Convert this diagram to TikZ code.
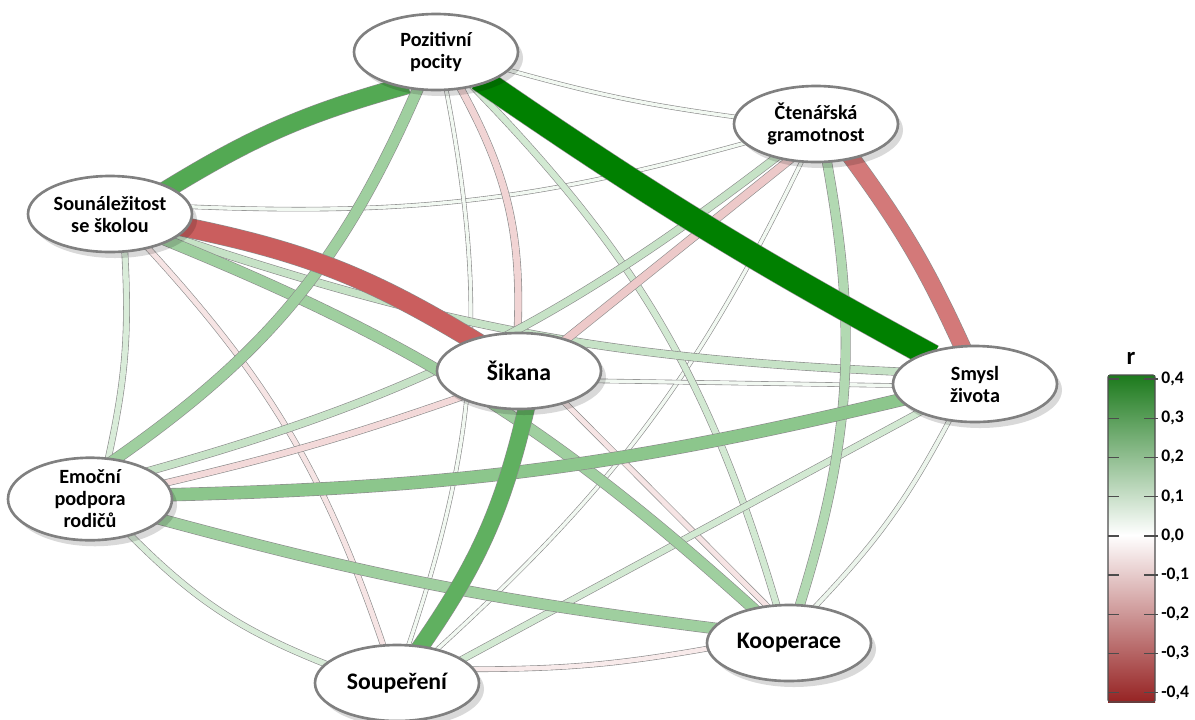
\documentclass[tikz,border=0pt]{standalone}
\usepackage{fontspec}
\setmainfont{Carlito}
\usetikzlibrary{shapes.geometric,shadows}
\definecolor{posgreen}{RGB}{0,128,0}
\definecolor{negred}{RGB}{185,40,40}
\definecolor{bargreen}{RGB}{28,122,28}
\definecolor{barred}{RGB}{150,35,35}
\pgfdeclarelayer{edges}
\pgfsetlayers{edges,main}
\tikzset{
  var/.style={ellipse, draw=black!50, line width=1.5pt, fill=white, inner sep=0pt,
    minimum width=32.8mm, minimum height=15.2mm, align=center,
    font=\bfseries\fontsize{11.5}{12.5}\selectfont,
    drop shadow={shadow xshift=1mm, shadow yshift=-1.2mm, fill=black, opacity=0.15}},
  bigvar/.style={var, font=\bfseries\fontsize{13.5}{15}\selectfont},
  link/.style={draw=black!45, line width=0.35pt, double distance=#1,
    shorten <=-5pt, shorten >=-5pt},
  tick/.style={draw=black!70, line width=0.8pt},
  ticklabel/.style={anchor=west, inner sep=0pt, font=\bfseries\fontsize{10}{10}\selectfont}
}
\begin{document}
\begin{tikzpicture}[x=0.2mm, y=-0.2mm]
\useasboundingbox (0,0) rectangle (1195,719);
\node[var] (PP) at (436,52) {Pozitivní\\pocity};
\node[var] (CG) at (816,124) {Čtenářská\\gramotnost};
\node[var] (SS) at (110,214) {Sounáležitost\\se školou};
\node[bigvar] (S) at (519,371) {Šikana};
\node[var] (SZ) at (975,384) {Smysl\\života};
\node[var, minimum height=16.5mm] (EP) at (90,499) {Emoční\\podpora\\rodičů};
\node[bigvar] (SP) at (397,683) {Soupeření};
\node[bigvar] (K) at (789,643) {Kooperace};
\begin{pgfonlayer}{edges}
\foreach \a/\aa/\b/\ba/\r/\bend in {
    PP/346/CG/175/0.02/-4, SS/5/CG/195/0.02/-9, PP/285/SP/73/0.02/15,
    CG/249/SP/40/0.02/11, S/353/SZ/181/0.02/0, SZ/235/K/54/0.03/8,
    SP/10/K/184/-0.04/-5, SS/318/SP/110/-0.05/12, S/325/K/121/-0.05/0,
    EP/12/S/204/-0.07/-3, SS/291/EP/66/0.06/8, EP/318/SP/165/0.06/-12,
    PP/317/K/108/0.07/14, SZ/207/SP/20/0.07/0, PP/304/S/92/-0.08/16,
    SS/340/SZ/171/0.09/-8, CG/220/EP/25/0.09/11, CG/233/S/34/-0.1/0,
    CG/286/K/74/0.12/14, EP/344/K/169/0.15/-4, SS/335/K/136/0.15/10,
    PP/244/EP/57/0.15/16, EP/3/SZ/192/0.18/-6, S/280/SP/57/0.25/11,
    SS/24/PP/224/0.27/8, CG/316/SZ/109/-0.25/6, SS/350/S/146/-0.3/10,
    PP/328/SZ/148/0.4/-3}{
  \pgfmathsetmacro\p{min(abs(\r)/0.4*100,100)}
  \pgfmathsetmacro\w{0.45+abs(\r)*11}
  \ifdim\r pt<0pt \def\base{negred}\else\def\base{posgreen}\fi
  \draw[link=\w mm, double=\base!\p!white] (\a.\aa) to[bend left=\bend] (\b.\ba);
}
\end{pgfonlayer}
\node[font=\bfseries\fontsize{14}{14}\selectfont] (rlabel) at (1131,358) {r};
\shade[top color=bargreen, bottom color=white] (1108,375) rectangle (1155,535);
\shade[top color=white, bottom color=barred] (1108,535) rectangle (1155,702);
\draw[black!70, line width=0.6pt, rounded corners=1pt] (1108,375) rectangle (1155,702);
\foreach \v/\t [count=\i from 0] in {0.4/{0,4}, 0.3/{0,3}, 0.2/{0,2}, 0.1/{0,1}, 0.0/{0,0},
    -0.1/{-0,1}, -0.2/{-0,2}, -0.3/{-0,3}, -0.4/{-0,4}}{
  \draw[tick] (1108,379+39.2*\i) -- (1119,379+39.2*\i);
  \draw[tick] (1144,379+39.2*\i) -- (1158,379+39.2*\i);
  \node[ticklabel] (tl\i) at (1161,379+39.2*\i) {\t};
}
\end{tikzpicture}
\end{document}
